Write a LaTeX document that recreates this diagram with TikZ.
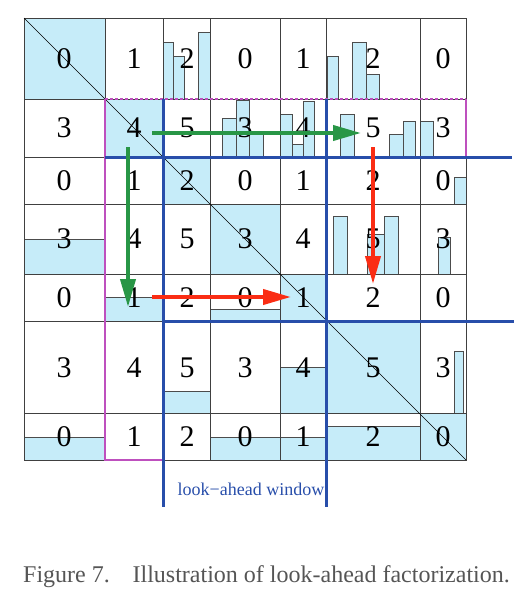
\documentclass[tikz,border=0pt]{standalone}
\usepackage{fontspec}
\setmainfont{Liberation Serif}
\usepackage{xcolor}
\usepackage{tikz}
\usetikzlibrary{arrows.meta}

\definecolor{nzblue}{RGB}{198,236,249}
\definecolor{winblue}{RGB}{40,78,170}
\definecolor{panelpink}{RGB}{190,80,190}
\definecolor{updgreen}{RGB}{40,150,70}
\definecolor{updred}{RGB}{250,45,20}
\definecolor{capgray}{RGB}{85,85,85}

\tikzset{
  nz/.style={fill=nzblue,draw=black!70,line width=0.8pt},
  gridline/.style={draw=black!75,line width=1pt},
  blk/.style={font=\fontsize{30}{30}\selectfont,inner sep=0pt},
  win/.style={draw=winblue,line width=3pt},
  upd/.style={line width=4pt,-{Triangle[length=28pt,width=15pt]}}
}

\begin{document}
\begin{tikzpicture}[x=1pt,y=-1pt]
    \useasboundingbox (0,0) rectangle (524,598);
    % diagonal blocks
    \fill[nzblue] (24,18) rectangle (105,99);
    \fill[nzblue] (105,99) rectangle (163,157);
    \fill[nzblue] (163,157) rectangle (210,204);
    \fill[nzblue] (210,204) rectangle (280,274);
    \fill[nzblue] (280,274) rectangle (326,321);
    \fill[nzblue] (326,321) rectangle (420,413);
    \fill[nzblue] (420,413) rectangle (466,460);
    % partly filled blocks
    \draw[nz] (24,239) rectangle (105,274);
    \draw[nz] (105,297) rectangle (163,321);
    \draw[nz] (210,309) rectangle (280,321);
    \draw[nz] (163,391) rectangle (210,413);
    \draw[nz] (280,367) rectangle (326,413);
    \draw[nz] (24,437) rectangle (105,460);
    \draw[nz] (210,437) rectangle (280,460);
    \draw[nz] (280,437) rectangle (326,460);
    \draw[nz] (326,426) rectangle (420,460);
    % columns of nonzeros
    \draw[nz] (163,42) rectangle (173,99);
    \draw[nz] (173,56) rectangle (184,99);
    \draw[nz] (198,32) rectangle (210,99);
    \draw[nz] (327,56) rectangle (338,99);
    \draw[nz] (352,42) rectangle (366,99);
    \draw[nz] (366,74) rectangle (379,99);
    \draw[nz] (222,118) rectangle (236,157);
    \draw[nz] (236,100) rectangle (249,157);
    \draw[nz] (249,132) rectangle (263,157);
    \draw[nz] (280,114) rectangle (292,157);
    \draw[nz] (292,144) rectangle (303,157);
    \draw[nz] (303,101) rectangle (314,157);
    \draw[nz] (340,114) rectangle (354,157);
    \draw[nz] (389,134) rectangle (403,157);
    \draw[nz] (403,121) rectangle (415,157);
    \draw[nz] (420,121) rectangle (433,157);
    \draw[nz] (454,177) rectangle (466,204);
    \draw[nz] (333,216) rectangle (347,274);
    \draw[nz] (367,234) rectangle (384,274);
    \draw[nz] (384,216) rectangle (398,274);
    \draw[nz] (438,237) rectangle (450,274);
    \draw[nz] (454,351) rectangle (463,413);
    % block grid
    \draw[gridline] (24,18) rectangle (466,460);
    \draw[gridline] (105,18) -- (105,460);
    \draw[gridline] (163,18) -- (163,460);
    \draw[gridline] (210,18) -- (210,460);
    \draw[gridline] (280,18) -- (280,460);
    \draw[gridline] (326,18) -- (326,460);
    \draw[gridline] (420,18) -- (420,460);
    \draw[gridline] (24,99) -- (466,99);
    \draw[gridline] (24,157) -- (466,157);
    \draw[gridline] (24,204) -- (466,204);
    \draw[gridline] (24,274) -- (466,274);
    \draw[gridline] (24,321) -- (466,321);
    \draw[gridline] (24,413) -- (466,413);
    \draw[black,line width=0.7pt] (24,18) -- (466,460);
    % panel outline
    \draw[panelpink,line width=1.3pt,densely dashed] (105,99) -- (466,99);
    \draw[panelpink,line width=1.2pt] (466,99) -- (466,157);
    \draw[panelpink,line width=1.2pt] (105,99) -- (105,460) -- (163,460);
    % process numbers
    \node[blk] (c00) at (64,59) {0};
    \node[blk] (c01) at (134,59) {1};
    \node[blk] (c02) at (187,59) {2};
    \node[blk] (c03) at (245,59) {0};
    \node[blk] (c04) at (303,59) {1};
    \node[blk] (c05) at (373,59) {2};
    \node[blk] (c06) at (443,59) {0};

    \node[blk] (c10) at (64,128) {3};
    \node[blk] (c11) at (134,128) {4};
    \node[blk] (c12) at (187,128) {5};
    \node[blk] (c13) at (245,128) {3};
    \node[blk] (c14) at (303,128) {4};
    \node[blk] (c15) at (373,128) {5};
    \node[blk] (c16) at (443,128) {3};

    \node[blk] (c20) at (64,181) {0};
    \node[blk] (c21) at (134,181) {1};
    \node[blk] (c22) at (187,181) {2};
    \node[blk] (c23) at (245,181) {0};
    \node[blk] (c24) at (303,181) {1};
    \node[blk] (c25) at (373,181) {2};
    \node[blk] (c26) at (443,181) {0};

    \node[blk] (c30) at (64,239) {3};
    \node[blk] (c31) at (134,239) {4};
    \node[blk] (c32) at (187,239) {5};
    \node[blk] (c33) at (245,239) {3};
    \node[blk] (c34) at (303,239) {4};
    \node[blk] (c35) at (373,239) {5};
    \node[blk] (c36) at (443,239) {3};

    \node[blk] (c40) at (64,298) {0};
    \node[blk] (c41) at (134,298) {1};
    \node[blk] (c42) at (187,298) {2};
    \node[blk] (c43) at (245,298) {0};
    \node[blk] (c44) at (303,298) {1};
    \node[blk] (c45) at (373,298) {2};
    \node[blk] (c46) at (443,298) {0};

    \node[blk] (c50) at (64,368) {3};
    \node[blk] (c51) at (134,368) {4};
    \node[blk] (c52) at (187,368) {5};
    \node[blk] (c53) at (245,368) {3};
    \node[blk] (c54) at (303,368) {4};
    \node[blk] (c55) at (373,368) {5};
    \node[blk] (c56) at (443,368) {3};

    \node[blk] (c60) at (64,437) {0};
    \node[blk] (c61) at (134,437) {1};
    \node[blk] (c62) at (187,437) {2};
    \node[blk] (c63) at (245,437) {0};
    \node[blk] (c64) at (303,437) {1};
    \node[blk] (c65) at (373,437) {2};
    \node[blk] (c66) at (443,437) {0};
    % look-ahead window
    \draw[win] (105,157) -- (512,157);
    \draw[win] (163,321) -- (514,321);
    \draw[win] (163,99) -- (163,507);
    \draw[win] (326,99) -- (326,507);
    \node[font=\fontsize{18}{18}\selectfont,text=winblue] (window) at (251,489) {look−ahead window};
    % updates
    \coordinate (gh0) at (152,133);
    \coordinate (gh1) at (361,133);
    \coordinate (gv0) at (128,147);
    \coordinate (gv1) at (128,307);
    \coordinate (rh0) at (152,297);
    \coordinate (rh1) at (291,297);
    \coordinate (rv0) at (373,147);
    \coordinate (rv1) at (373,284);
    \draw[upd,updgreen] (gh0) -- (gh1);
    \draw[upd,updgreen] (gv0) -- (gv1);
    \draw[upd,updred] (rh0) -- (rh1);
    \draw[upd,updred] (rv0) -- (rv1);
    \node[font=\fontsize{24}{24}\selectfont,text=capgray,anchor=base west,inner sep=0pt] (caption) at (23,582) {Figure 7.\hspace{0.95em}Illustration of look-ahead factorization.};
\end{tikzpicture}
\end{document}
